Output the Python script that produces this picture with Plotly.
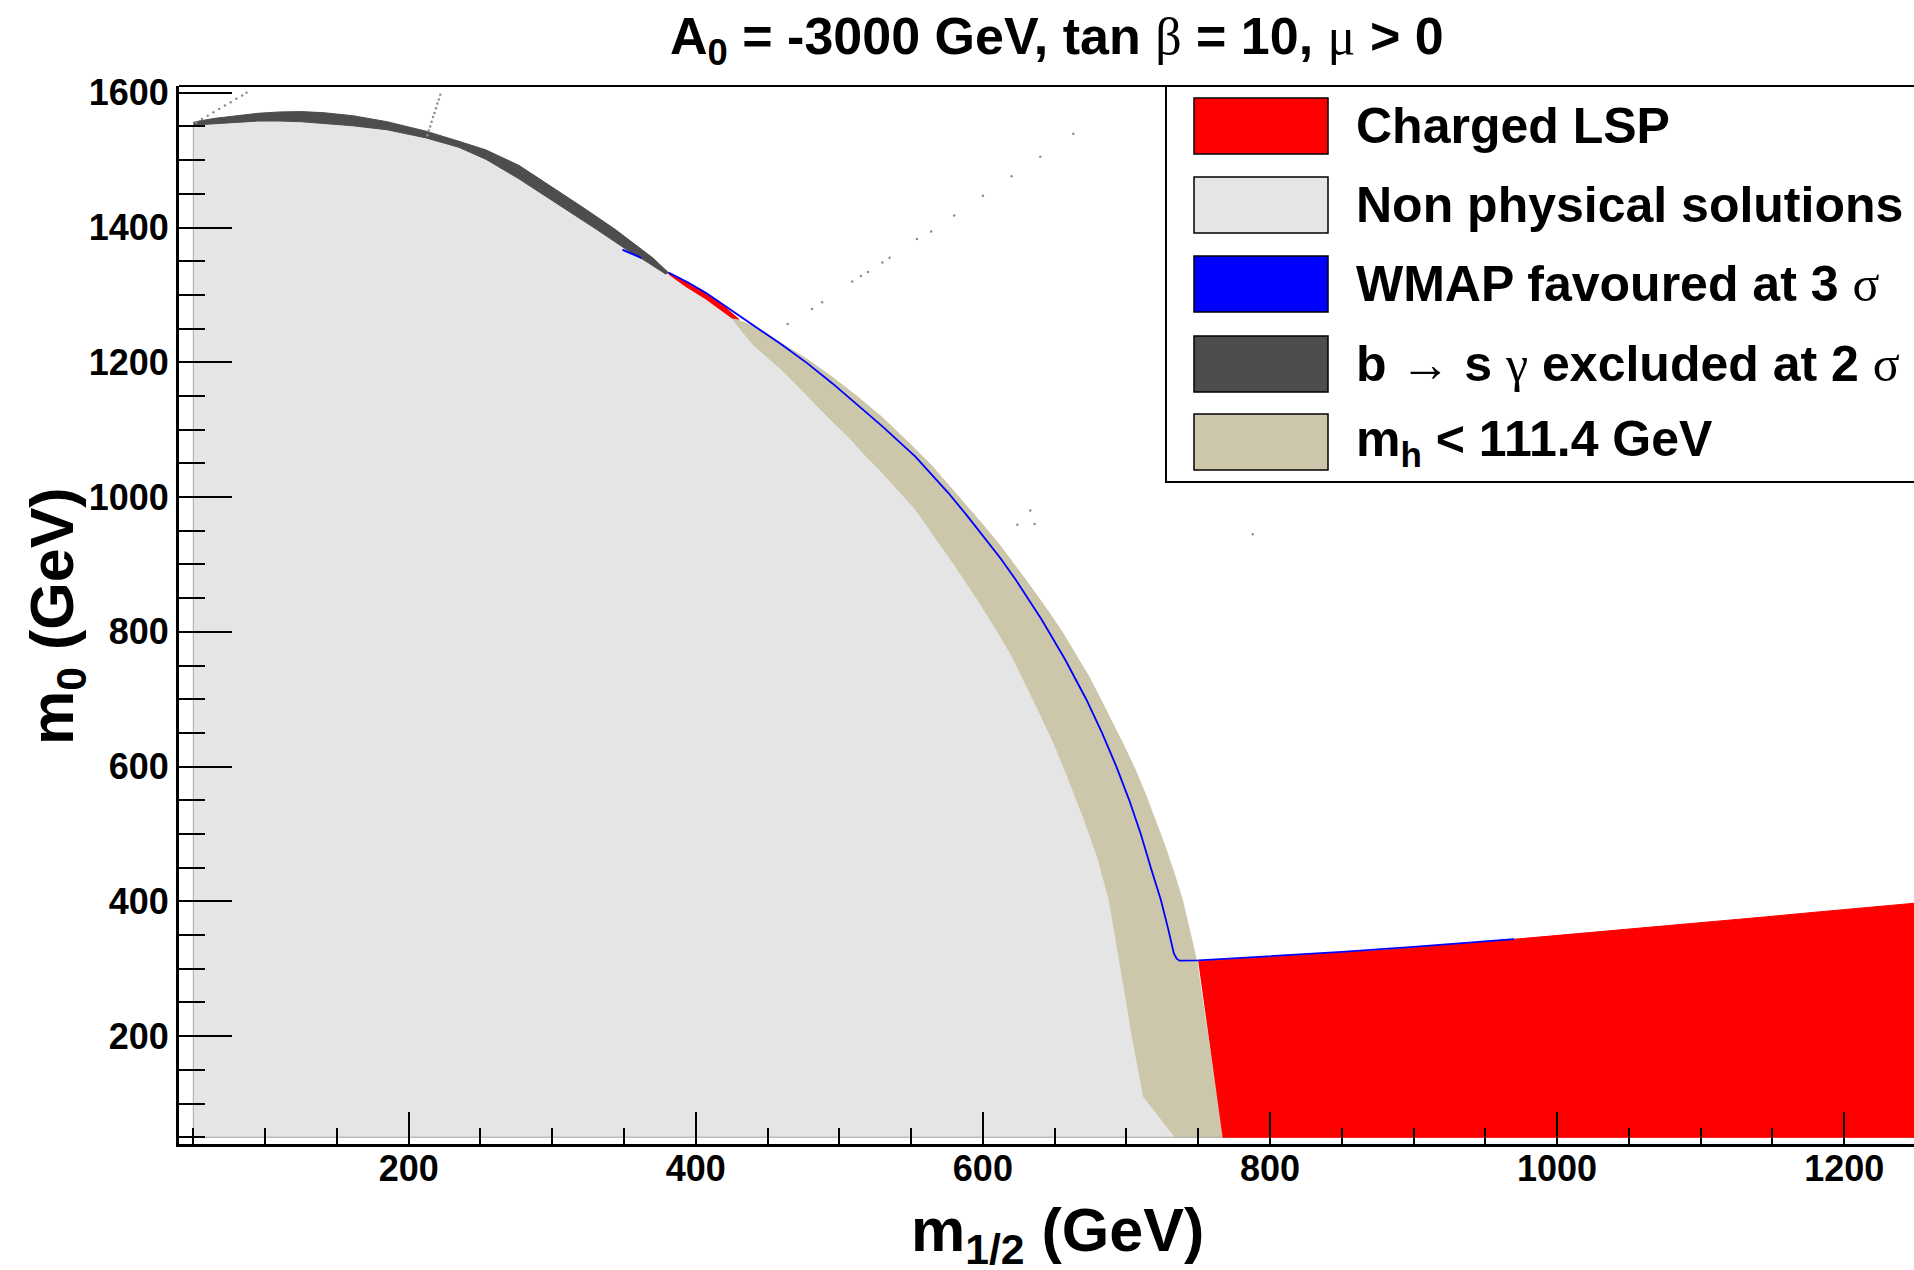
import plotly.graph_objects as go

# ---- scan limits of the (m_1/2, m_0) grid -------------------------------
M12_MIN, M12_MAX = 50, 1250
M0_MIN = 50

# ---- region boundaries (m_1/2 [GeV], m_0 [GeV]) --------------------------
# b -> s gamma excluded at 2 sigma (dark grey band): upper edge, then lower edge back
bsg_top_x = [50, 54, 65, 80, 95, 110, 125, 140, 161, 185, 212, 235, 254, 277, 300, 322, 344, 358, 370, 381]
bsg_top_y = [1556, 1558, 1562, 1566, 1569.5, 1571.5, 1572, 1570.5, 1566, 1557, 1543, 1528, 1515, 1492,
             1460, 1429, 1397, 1375, 1355, 1333]
bsg_bot_x = [379, 366, 352, 331, 315, 300, 277, 254, 235, 212, 185, 161, 140, 125, 110, 95, 80, 65, 54, 50]
bsg_bot_y = [1331, 1349, 1367, 1397, 1419, 1440, 1472, 1501, 1519, 1533, 1545, 1551, 1555, 1557, 1558,
             1558, 1556, 1554.5, 1553, 1552]

# m_h < 111.4 GeV (tan band): outer edge, then inner edge back up
mh_out_x = [425, 440, 450, 460, 478, 495, 512, 530, 542, 553, 565, 576, 588, 600, 612, 623, 635, 646,
            656, 665, 674, 682, 690, 698, 706, 713, 720, 727, 733, 739, 744, 749, 767]
mh_out_y = [1266, 1254, 1241, 1228, 1204, 1178, 1150, 1118, 1094, 1071, 1045, 1018, 989, 959, 928, 897,
            862, 829, 797, 765, 733, 700, 667, 632, 596, 560, 521, 481, 443, 402, 357, 311, 50]
mh_in_x = [734, 723, 712, 708, 704, 701, 697, 693, 688, 680, 670, 660, 650, 640, 630, 620, 609, 595,
           580, 566, 553, 541, 530, 518, 507, 493, 480, 470, 460, 450, 440, 433, 425]
mh_in_y = [50, 80, 110, 155, 200, 240, 290, 345, 402, 465, 525, 580, 632, 678, 722, 765, 805, 852,
           900, 942, 982, 1010, 1036, 1062, 1088, 1117, 1145, 1167, 1189, 1207, 1226, 1244, 1266]

# non-physical solutions (light grey): left/bottom scan edge, under the b->s gamma band,
# then down along the inner edge of the tan band
nonphys_mid_x = [392, 407]
nonphys_mid_y = [1314, 1294]
nonphys_x = [M12_MIN] + bsg_bot_x[::-1] + [379] + nonphys_mid_x + mh_in_x[::-1] + [M12_MIN]
nonphys_y = [M0_MIN] + bsg_bot_y[::-1] + [1331] + nonphys_mid_y + mh_in_y[::-1] + [M0_MIN]

# charged LSP (red)
clsp_top_x = [750, 775, 800, 825, 850, 875, 900, 930, 960, 995, 1030, 1070, 1110, 1145, 1180, 1215, 1250]
clsp_top_y = [311, 314, 317, 320, 323.5, 327, 331, 336, 342, 348.5, 355, 362.5, 370, 377, 384, 390.5, 397.5]
clsp_edge_x = [381, 392, 405, 418, 430, 425, 407, 392, 381]
clsp_edge_y = [1333, 1321, 1305, 1286, 1264, 1266, 1294, 1314, 1331]

# WMAP favoured at 3 sigma (blue strip)
wmap_x = [381, 395, 407, 418, 430, 445, 460, 478, 495, 512, 530, 553, 576, 588, 600, 612, 623, 632, 641,
          657, 672, 683, 693, 702, 710, 717, 724, 729, 733, 735, 737, 750, 800, 850, 900, 940, 970]
wmap_y = [1333, 1318, 1303, 1287, 1270, 1248, 1226, 1198, 1169, 1138, 1105, 1060, 1006, 975, 942, 910, 877,
          848, 818, 760, 700, 650, 600, 550, 500, 450, 402, 360, 323, 315, 312, 312.5, 318.5, 325, 332.5,
          339, 344]
wmap_bsg_x = [349, 355, 362]
wmap_bsg_y = [1367, 1361, 1355]

# isolated scan points
stray_x = [52, 56, 60, 64, 68, 72, 76, 80, 84, 87,
           213, 214, 215, 216, 217, 218, 219, 220, 221, 222,
           464, 481, 488, 509, 515, 520, 530, 535, 554, 564, 580, 600, 620, 640, 663,
           633, 624, 636, 788]
stray_y = [1556, 1561, 1566, 1571, 1576, 1581, 1586, 1591, 1596, 1600,
           1537, 1544, 1550, 1557, 1564, 1570, 1577, 1584, 1590, 1597,
           1257, 1279, 1289, 1320, 1328, 1334, 1348, 1355, 1383, 1394, 1418, 1447, 1476, 1505, 1539,
           980, 959, 960, 945]

# ---- legend -------------------------------------------------------------
SERIF = "<span style=\"font-family:Liberation Serif;font-weight:normal\">{}</span>"
legend_labels = [
    "Charged LSP",
    "Non physical solutions",
    "WMAP favoured at 3 " + SERIF.format("σ"),
    "b " + SERIF.format("→") + " s " + SERIF.format("γ") + " excluded at 2 " + SERIF.format("σ"),
    "m<sub>h</sub> &lt; 111.4 GeV",
]
C_RED = "#ff0000"
C_GREY = "#e5e5e5"
C_BLUE = "#0000ff"
C_DARK = "#4d4d4d"
C_TAN = "#ccc7ab"
legend_colors = [C_RED, C_GREY, C_BLUE, C_DARK, C_TAN]

FONT = "Liberation Sans, Arial, Helvetica, sans-serif"
W, H = 1914, 1270
ML, MR, MT, MB = 179, 0, 86, 126


def px_x(p):
    return (p - ML) / (W - ML - MR)


def px_y(p):
    return (H - MB - p) / (H - MT - MB)


fig = go.Figure()


def region(x, y, color):
    fig.add_trace(go.Scatter(x=x, y=y, mode="lines", fill="toself", fillcolor=color,
                             line=dict(color=color, width=1), hoverinfo="skip", showlegend=False))


region(nonphys_x, nonphys_y, C_GREY)
region(bsg_top_x + bsg_bot_x, bsg_top_y + bsg_bot_y, C_DARK)
region(mh_out_x + mh_in_x, mh_out_y + mh_in_y, C_TAN)
region(clsp_edge_x, clsp_edge_y, C_RED)

# scan frame edge
fig.add_trace(go.Scatter(x=[M12_MIN, M12_MIN, M12_MAX], y=[bsg_bot_y[-1], M0_MIN, M0_MIN], mode="lines",
                         line=dict(color="rgb(175,168,168)", width=1), hoverinfo="skip", showlegend=False))

region(clsp_top_x + [M12_MAX, mh_out_x[-1]], clsp_top_y + [M0_MIN, M0_MIN], C_RED)

fig.add_trace(go.Scatter(x=wmap_x, y=wmap_y, mode="lines", line=dict(color=C_BLUE, width=1.8),
                         hoverinfo="skip", showlegend=False))
fig.add_trace(go.Scatter(x=wmap_bsg_x, y=wmap_bsg_y, mode="lines", line=dict(color=C_BLUE, width=2),
                         hoverinfo="skip", showlegend=False))
fig.add_trace(go.Scatter(x=stray_x, y=stray_y, mode="markers",
                         marker=dict(size=2.5, color="rgb(150,140,140)"),
                         hoverinfo="skip", showlegend=False))

axis_common = dict(
    showgrid=False, zeroline=False, showline=True, linecolor="black", linewidth=3,
    ticks="inside", tickcolor="black", tickwidth=2, tick0=0, dtick=200,
    tickfont=dict(family=FONT, size=36, color="black", weight="bold"),
)
fig.update_xaxes(range=[40, 40 + (W - ML - MR) / 1.4355], ticklen=32, ticklabelstandoff=-9,
                 minor=dict(ticks="inside", ticklen=16, tickwidth=2, tickcolor="black", dtick=50, tick0=0),
                 **axis_common)
fig.update_yaxes(range=[40, 1610], ticklen=53, ticklabelstandoff=0,
                 minor=dict(ticks="inside", ticklen=26, tickwidth=2, tickcolor="black", dtick=50, tick0=0),
                 **axis_common)

shapes = [
    # top frame line
    dict(type="line", xref="paper", yref="paper", x0=0, x1=1, y0=1, y1=1,
         line=dict(color="black", width=2), layer="above"),
    # legend box
    dict(type="rect", xref="paper", yref="paper", x0=px_x(1166), x1=px_x(1940), y0=px_y(482), y1=px_y(86),
         fillcolor="white", line=dict(color="black", width=2), layer="above"),
]
annotations = []
row_centers = [126, 205, 284, 364, 442]
for lab, col, yc in zip(legend_labels, legend_colors, row_centers):
    shapes.append(dict(type="rect", xref="paper", yref="paper", x0=px_x(1194), x1=px_x(1328),
                       y0=px_y(yc + 28), y1=px_y(yc - 28), fillcolor=col,
                       line=dict(color="black", width=1.5), layer="above"))
    annotations.append(dict(text=lab, xref="paper", yref="paper", x=px_x(1354), y=px_y(yc),
                            xanchor="left", yanchor="middle", showarrow=False,
                            font=dict(family=FONT, size=50, color="black", weight="bold")))

annotations += [
    dict(text="A<sub>0</sub> = -3000 GeV, tan " + SERIF.format("β") + " = 10, " + SERIF.format("μ") + " &gt; 0",
         xref="paper", yref="paper", x=px_x(1057), y=px_y(40), xanchor="center", yanchor="middle",
         showarrow=False, font=dict(family=FONT, size=52, color="black", weight="bold")),
    dict(text="m<sub>1/2</sub> (GeV)", xref="paper", yref="paper", x=px_x(1057), y=px_y(1234),
         xanchor="center", yanchor="middle", showarrow=False,
         font=dict(family=FONT, size=61, color="black", weight="bold")),
    dict(text="m<sub>0</sub> (GeV)", xref="paper", yref="paper", x=px_x(56), y=px_y(616),
         xanchor="center", yanchor="middle", textangle=-90, showarrow=False,
         font=dict(family=FONT, size=61, color="black", weight="bold")),
]

fig.update_layout(
    width=W, height=H, margin=dict(l=ML, r=MR, t=MT, b=MB),
    paper_bgcolor="white", plot_bgcolor="white", showlegend=False,
    shapes=shapes, annotations=annotations,
)

fig.write_html("out.html")
